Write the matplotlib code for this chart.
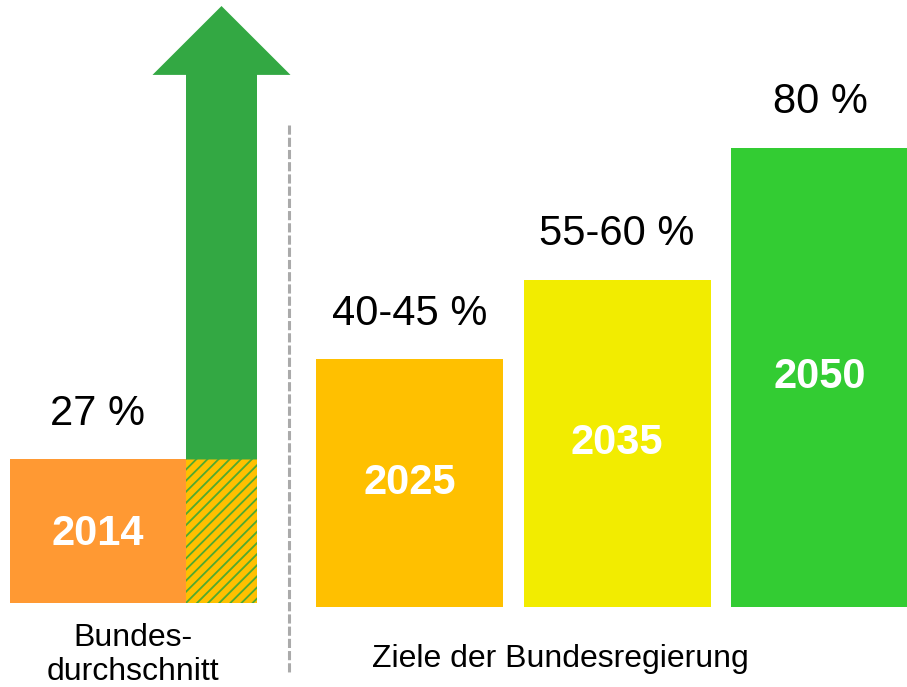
import matplotlib.pyplot as plt
from matplotlib.patches import FancyArrow

plt.rcParams['font.family'] = ['Liberation Sans', 'DejaVu Sans']
plt.rcParams['hatch.linewidth'] = 1.3

# Data (bar heights, in %)
years = ['2014', '2025', '2035', '2050']
heights = [25.0, 43.2, 57.0, 80.0]
value_labels = ['27 %', '40-45 %', '55-60 %', '80 %']
colors = ['#FF9933', '#FFC000', '#F2EC00', '#33CC33']
group_labels = ['Bundes-', 'durchschnitt', 'Ziele der Bundesregierung']

# Layout in pixel-like x units, y in %
px_per_pct = 5.74
base_px = 607
left_edges = [10, 316, 523.5, 731]
widths = [176, 187, 187, 187]


def py(p):
    # pixel row -> data y
    return (base_px - p) / px_per_pct


fig = plt.figure(figsize=(9.07, 6.87), dpi=100)
ax = fig.add_axes([0, 0, 1, 1])
ax.set_xlim(0, 907)
ax.set_ylim(py(687), py(0))
ax.axis('off')

# bars
ax.bar(left_edges, heights, width=widths, align='edge', color=colors,
       bottom=[0.7, 0, 0, 0], linewidth=0)

# hatched part next to 2014 bar
ax.bar(186, heights[0], width=71, align='edge', bottom=0.7,
       facecolor='#FFC000', edgecolor='#4FAA30', hatch='///', linewidth=0)

# green arrow rising from the 2014 level
arrow_top = 104.7
ax.add_patch(FancyArrow(221.5, heights[0] + 0.7, 0, arrow_top - heights[0] - 0.7,
                        width=71, head_width=138, head_length=12.0,
                        length_includes_head=True, color='#33A843', linewidth=0))

# dashed separator
ax.plot([289, 289], [py(125), py(672)],
        color='#AAAAAA', linewidth=2.2, linestyle=(0, (3.0, 1.0)))

# value labels above bars and year labels inside
for i in range(len(years)):
    cx = left_edges[i] + widths[i] / 2
    if i == 0:
        cx = 98
    if i == 3:
        cx = 820
    ax.text(cx, heights[i] + (0.7 if i == 0 else 0) + 6.0, value_labels[i],
            ha='center', va='baseline', fontsize=30, color='black')
    ax.text(cx, (heights[i] / 2 if i else 12.8), years[i], ha='center', va='center',
            fontsize=30, fontweight='bold', color='white')

# group labels
ax.text(133, py(646), group_labels[0], ha='center', va='baseline', fontsize=23)
ax.text(133, py(680), group_labels[1], ha='center', va='baseline', fontsize=23)
ax.text(560, py(667), group_labels[2], ha='center', va='baseline', fontsize=23)

fig.savefig('out.png', dpi=100)
